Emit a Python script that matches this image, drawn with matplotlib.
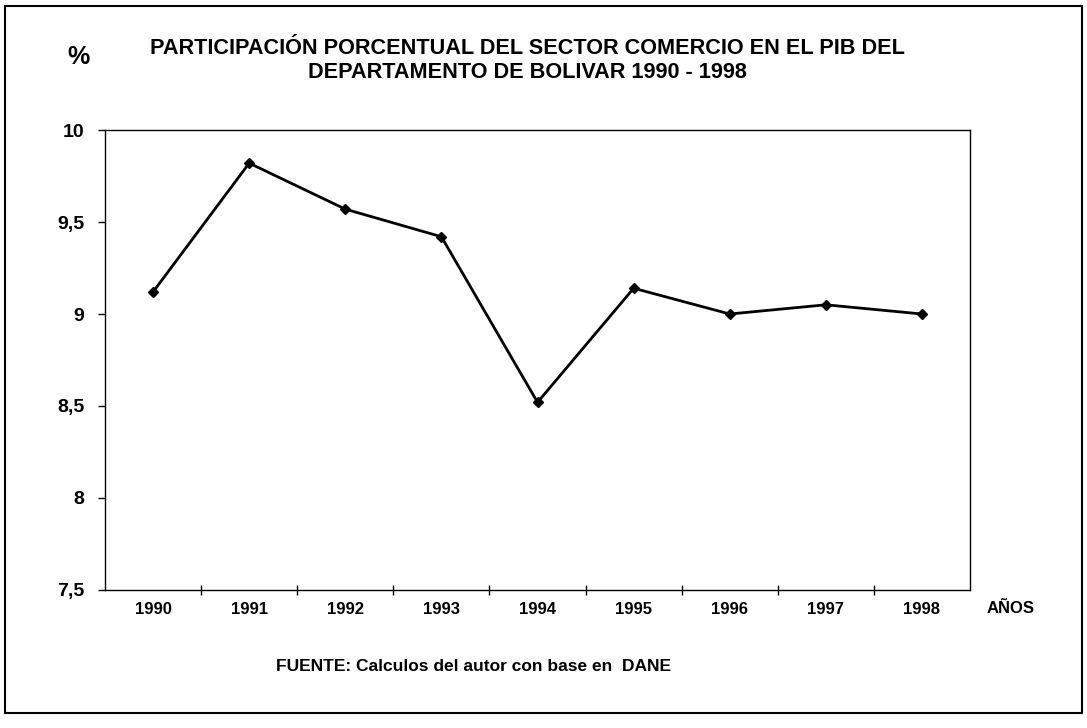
import matplotlib.pyplot as plt
from matplotlib.ticker import FixedLocator, FuncFormatter
from matplotlib.patches import Rectangle

# Datos
anios = ['1990', '1991', '1992', '1993', '1994', '1995', '1996', '1997', '1998']
participacion = [9.12, 9.82, 9.57, 9.42, 8.52, 9.14, 9.00, 9.05, 9.00]
y_ticks = [7.5, 8, 8.5, 9, 9.5, 10]

fuente = ['Liberation Sans', 'DejaVu Sans']

fig = plt.figure(figsize=(10.87, 7.28), dpi=100)
ax = fig.add_axes([0.0966, 0.1896, 0.7958, 0.6318])

x = list(range(len(anios)))
ax.plot(x, participacion, color='black', linewidth=2, marker='D', markersize=5)

ax.set_xlim(-0.5, len(anios) - 0.5)
ax.set_ylim(7.5, 10)

# eje y con coma decimal
ax.set_yticks(y_ticks)
ax.yaxis.set_major_formatter(FuncFormatter(lambda v, p: ('%g' % v).replace('.', ',')))
ax.tick_params(axis='y', direction='out', length=5, width=1, pad=10)
for lab in ax.get_yticklabels():
    lab.set_family(fuente)
    lab.set_fontsize(14)
    lab.set_fontweight('bold')

# eje x: etiquetas en el centro, marcas en los límites de categoría
ax.set_xticks(x)
ax.set_xticklabels(anios, family=fuente, fontsize=12, fontweight='bold')
ax.tick_params(axis='x', which='major', length=0, pad=9)
ax.xaxis.set_minor_locator(FixedLocator([i + 0.5 for i in x[:-1]]))
ax.tick_params(axis='x', which='minor', direction='inout', length=7, width=1)

for s in ax.spines.values():
    s.set_linewidth(1)
    s.set_color('black')

fig.text(0.072, 0.922, '%', family=fuente, fontsize=18, fontweight='bold',
         ha='center', va='center')
fig.text(0.485, 0.934, 'PARTICIPACIÓN PORCENTUAL DEL SECTOR COMERCIO EN EL PIB DEL',
         family=fuente, fontsize=15.6, fontweight='bold', ha='center', va='center')
fig.text(0.485, 0.901, 'DEPARTAMENTO DE BOLIVAR 1990 - 1998',
         family=fuente, fontsize=15.6, fontweight='bold', ha='center', va='center')
fig.text(0.930, 0.164, 'AÑOS', family=fuente, fontsize=12, fontweight='bold',
         ha='center', va='center')
fig.text(0.254, 0.084, 'FUENTE: Calculos del autor con base en  DANE',
         family=fuente, fontsize=12.5, fontweight='bold', ha='left', va='center')

# marco exterior
fig.patches.append(Rectangle((0.005, 0.02), 0.99, 0.972, transform=fig.transFigure,
                             fill=False, edgecolor='black', linewidth=1.5))

fig.savefig('out.png', dpi=100)
